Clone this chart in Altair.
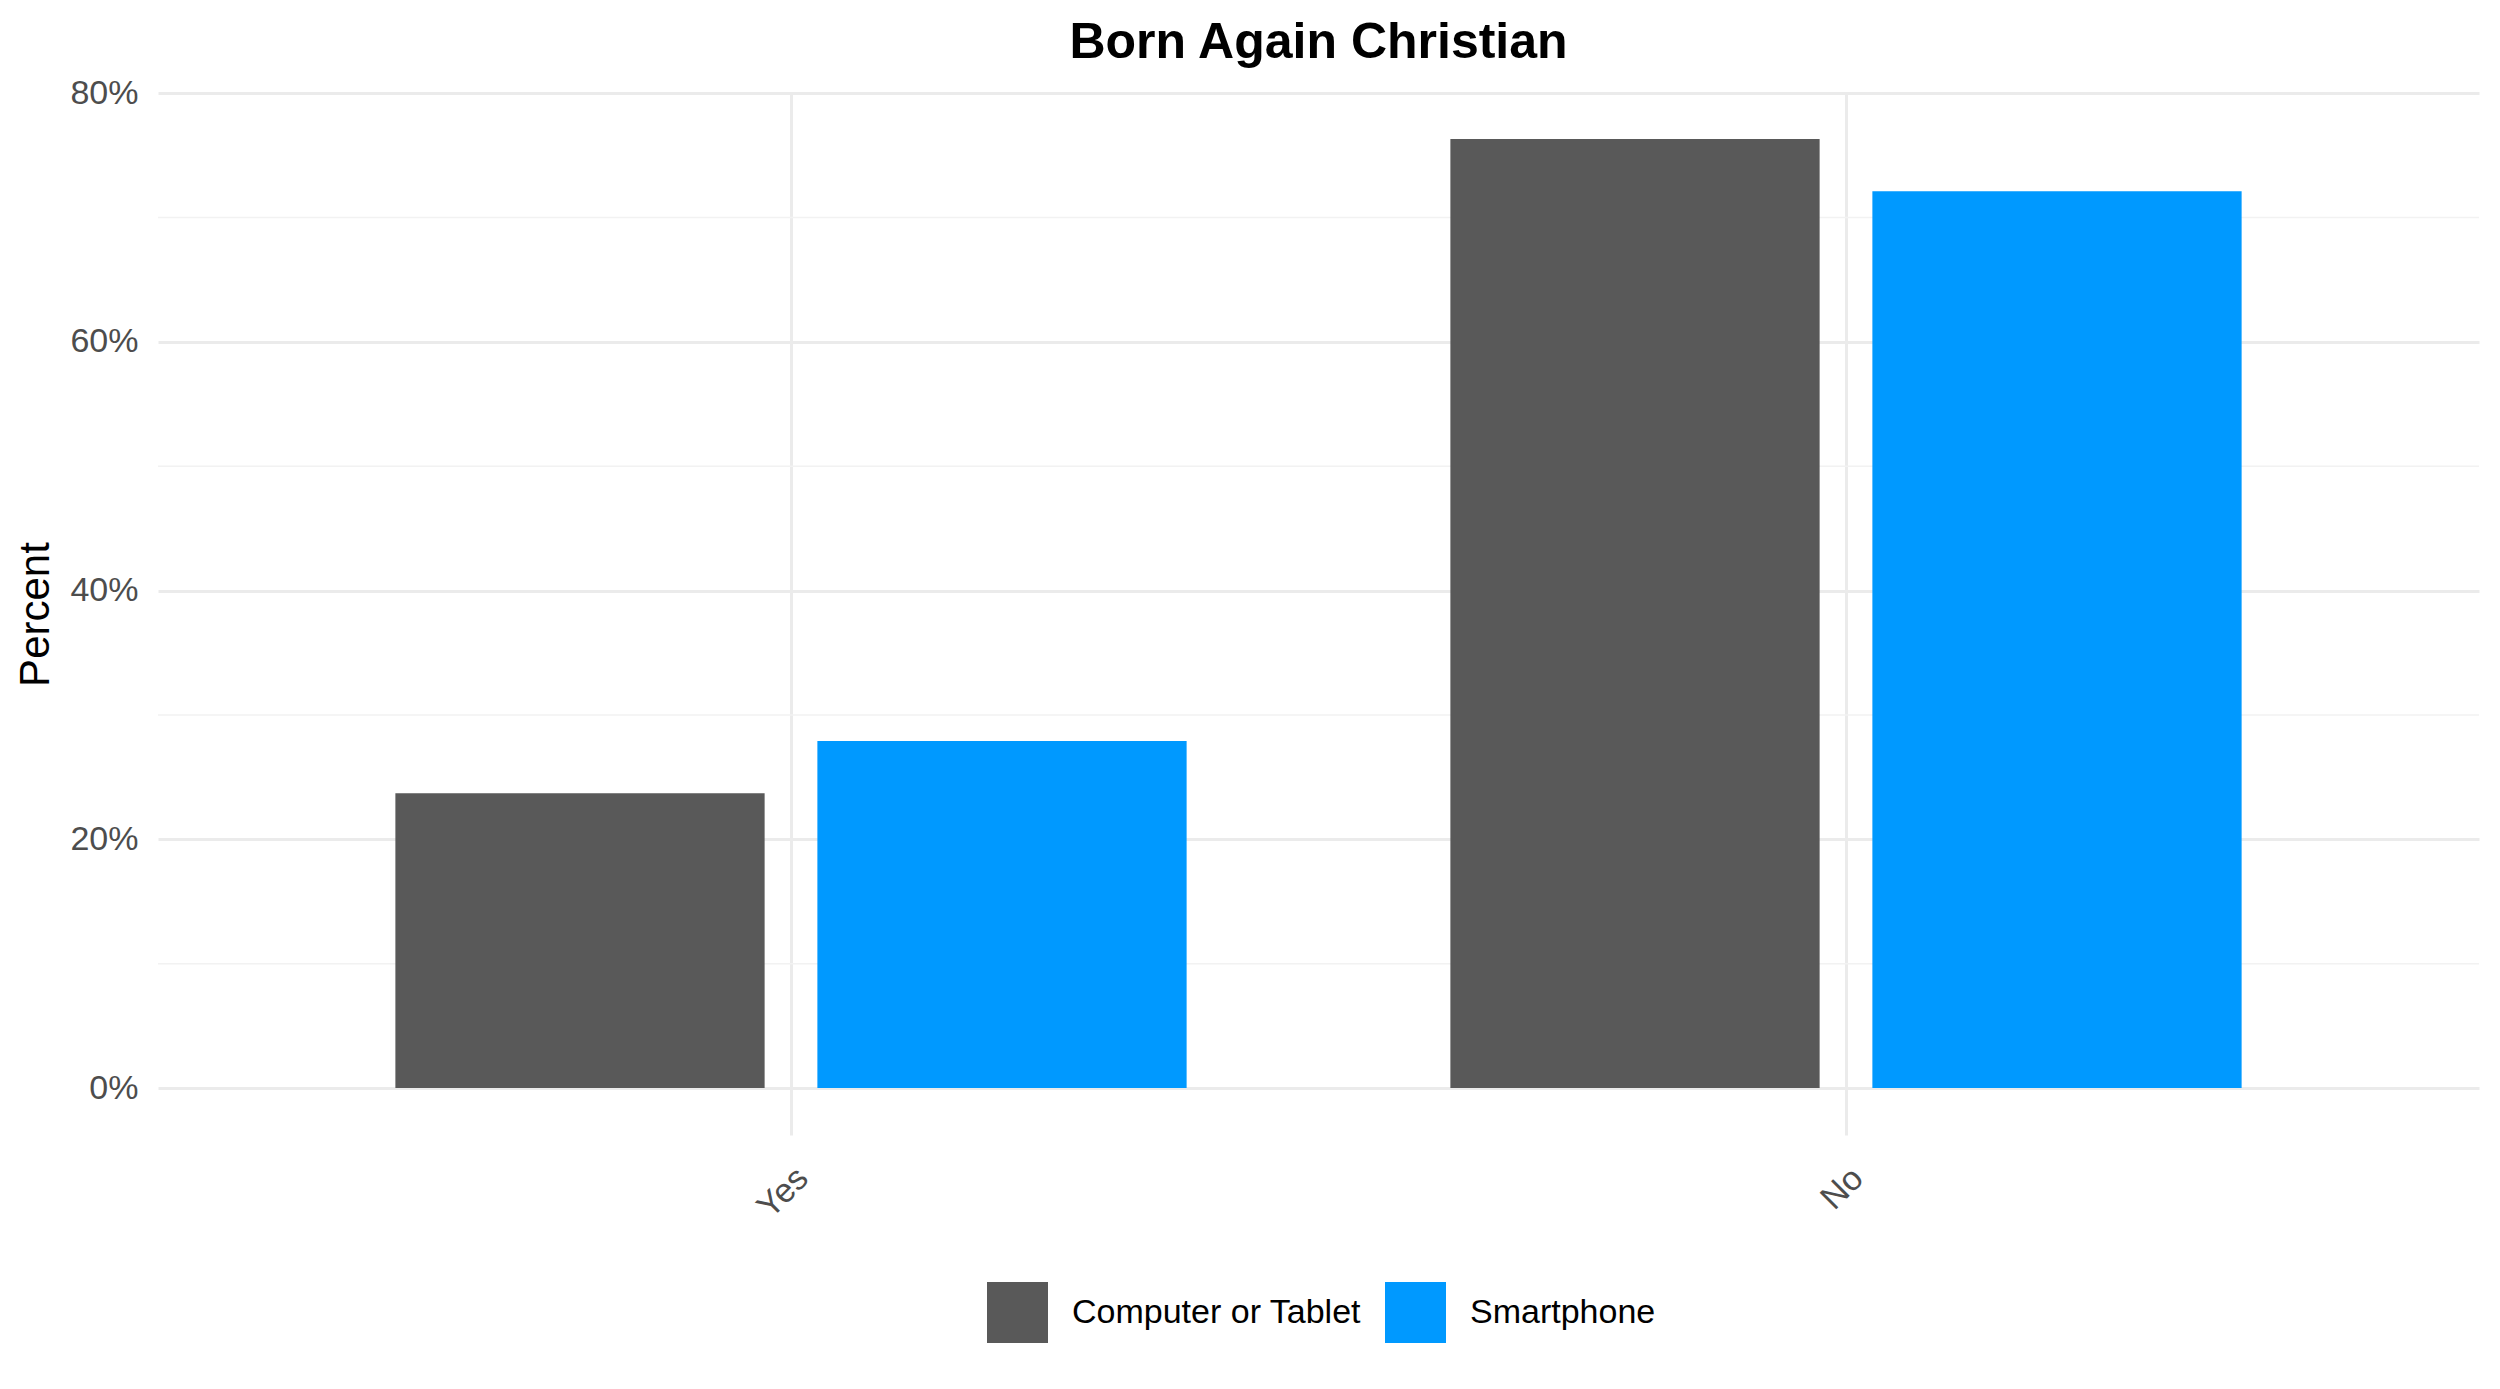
import altair as alt
import pandas as pd

categories = ["Yes", "No"]
devices = ["Computer or Tablet", "Smartphone"]
computer_values = [0.237, 0.763]
smartphone_values = [0.279, 0.721]
minor_grid = [0.1, 0.3, 0.5, 0.7]
colors = ["#595959", "#0099FF"]

rows = []
for c, v in zip(categories, computer_values):
    rows.append({"answer": c, "device": devices[0], "pct": v})
for c, v in zip(categories, smartphone_values):
    rows.append({"answer": c, "device": devices[1], "pct": v})
df = pd.DataFrame(rows)
minor_df = pd.DataFrame({"v": minor_grid})

W, H = 2321, 1042
FONT = "Liberation Sans"

yscale = alt.Scale(domain=[-0.0377, 0.8], nice=False, zero=False)

minor = alt.Chart(minor_df).mark_rule(color="#F2F2F2", strokeWidth=1.5).encode(
    y=alt.Y("v:Q", scale=yscale),
    x=alt.value(0),
    x2=alt.value(W),
)

bars = alt.Chart(df).mark_bar().encode(
    x=alt.X(
        "answer:N",
        sort=categories,
        scale=alt.Scale(paddingInner=0.2, paddingOuter=0.2),
        axis=alt.Axis(
            title=None,
            labelAngle=315,
            labelAlign="right",
            labelBaseline="top",
            labelFontSize=34,
            labelFont=FONT,
            labelColor="#4D4D4D",
            labelPadding=26,
            domain=False,
            ticks=False,
            grid=True,
            gridColor="#EBEBEB",
            gridWidth=3,
            bandPosition=0.5,
        ),
    ),
    xOffset=alt.XOffset(
        "device:N",
        sort=devices,
        scale=alt.Scale(paddingInner=0.125, paddingOuter=0.0625),
    ),
    y=alt.Y(
        "pct:Q",
        scale=yscale,
        axis=alt.Axis(
            title="Percent",
            values=[0, 0.2, 0.4, 0.6, 0.8],
            format=".0%",
            labelFontSize=34,
            labelFont=FONT,
            labelColor="#4D4D4D",
            labelPadding=20,
            domain=False,
            ticks=False,
            grid=True,
            gridColor="#EBEBEB",
            gridWidth=3,
            titleFont=FONT,
            titleFontSize=42,
            titleFontWeight="normal",
            titleColor="#000000",
            titleAngle=270,
            titleX=-123,
            titleY=H / 2,
            titleAlign="center",
            titleBaseline="middle",
        ),
    ),
    color=alt.Color(
        "device:N",
        sort=devices,
        scale=alt.Scale(domain=devices, range=colors),
        legend=alt.Legend(
            title=None,
            orient="none",
            direction="horizontal",
            columns=2,
            legendX=829,
            legendY=1189,
            padding=0,
            symbolType="square",
            symbolSize=3721,
            symbolStrokeWidth=0,
            symbolOpacity=1,
            labelFontSize=34,
            labelFont=FONT,
            labelColor="#000000",
            labelOffset=24,
            labelLimit=1000,
            columnPadding=23,
        ),
    ),
)

chart = (
    alt.layer(minor, bars)
    .properties(
        width=W,
        height=H,
        title=alt.TitleParams(
            "Born Again Christian",
            font=FONT,
            fontSize=50,
            fontWeight="bold",
            color="#000000",
            anchor="middle",
            offset=8,
        ),
        autosize=alt.AutoSizeParams(type="none"),
        padding={"left": 150, "top": 85, "right": 13, "bottom": 220},
    )
    .configure(background="white")
    .configure_view(strokeWidth=0, stroke="transparent")
)

chart.save("out.html", embed_options={"renderer": "svg", "actions": False})
